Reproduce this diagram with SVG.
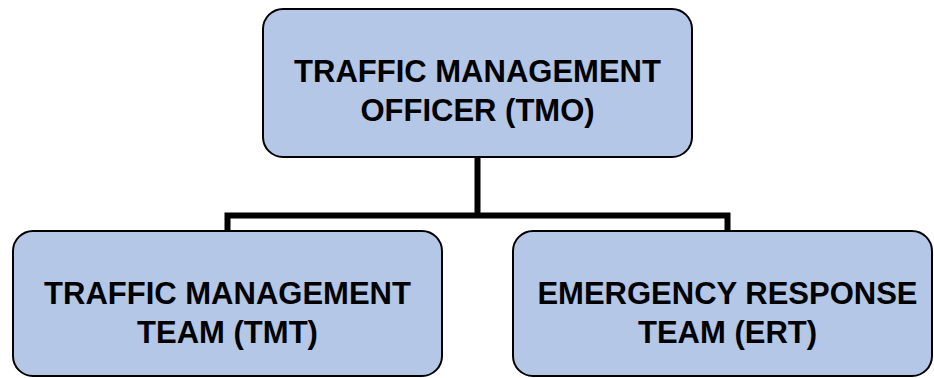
<svg xmlns="http://www.w3.org/2000/svg" width="934" height="378" viewBox="0 0 934 378">
<style>
.box{fill:#B4C7E7;stroke:#000;stroke-width:2}
.lbl{font-family:"Liberation Sans",Arial,sans-serif;font-weight:bold;font-size:31px;fill:#000;text-anchor:middle}
.conn{fill:none;stroke:#000;stroke-width:6}
</style>
<rect width="934" height="378" fill="#fff"/>
<g id="connectors">
<path class="conn" d="M477.5 157 V215.5 M227.5 231 V215.5 H727.5 V231"/>
</g>
<g id="tmo">
<rect class="box" x="263" y="9" width="429" height="148" rx="20"/>
<text class="lbl" x="477.5" y="82">TRAFFIC MANAGEMENT</text>
<text class="lbl" x="477.5" y="121">OFFICER (TMO)</text>
</g>
<g id="tmt">
<rect class="box" x="13" y="231" width="429" height="145" rx="20"/>
<text class="lbl" x="227.5" y="304">TRAFFIC MANAGEMENT</text>
<text class="lbl" x="227.5" y="343">TEAM (TMT)</text>
</g>
<g id="ert">
<rect class="box" x="513" y="231" width="419" height="145" rx="20"/>
<text class="lbl" x="727.5" y="304">EMERGENCY RESPONSE</text>
<text class="lbl" x="727.5" y="343">TEAM (ERT)</text>
</g>
</svg>
